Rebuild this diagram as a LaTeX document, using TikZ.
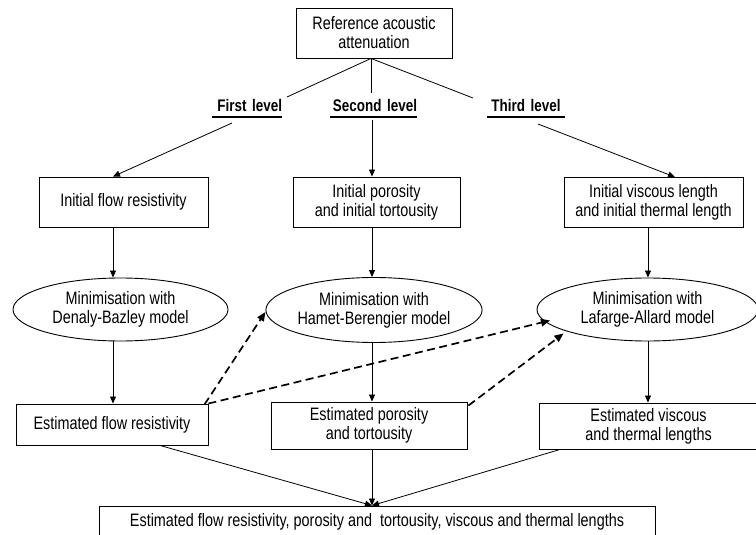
\documentclass[tikz,border=0pt]{standalone}
\usepackage{fontspec}
\setmainfont{Liberation Sans}[FakeStretch=0.8]
\usetikzlibrary{shapes.geometric,arrows.meta,calc}
\begin{document}
\begin{tikzpicture}[x=1pt,y=-1pt,
  txt/.style={font=\fontsize{18}{19}\selectfont},
  box/.style={draw, rectangle, inner sep=0pt, align=center, txt, line width=0.9pt},
  oval/.style={draw, ellipse, inner sep=0pt, align=center, txt, line width=0.9pt},
  lvl/.style={inner sep=0pt, anchor=base, font=\fontsize{16.8}{18}\selectfont\bfseries},
  conn/.style={line width=0.8pt},
  arr/.style={conn, -{Triangle[length=7pt,width=6pt]}},
  dsh/.style={line width=1.7pt, dash pattern=on 8pt off 4.5pt, -{Triangle[length=9pt,width=7.5pt]}},
  uline/.style={line width=1.8pt}
]
\useasboundingbox (0,0) rectangle (756,535);
\clip (0,0) rectangle (756,535);

% nodes
\node[box, minimum width=156pt, minimum height=50pt] (top) at (374,33) {Reference acoustic\\attenuation};

\node[lvl, text width=70pt, align=right] (l1) at (247,112) {First level};
\node[lvl, text width=87pt, align=right] (l2) at (373.5,112) {Second level};
\node[lvl, text width=78pt, align=center] (l3) at (526,112) {Third level};

\node[box, minimum width=169pt, minimum height=50pt] (fr) at (123.5,202) {Initial flow resistivity};
\node[box, minimum width=167pt, minimum height=50pt] (ip) at (376.5,202) {Initial porosity\\and initial tortousity};
\node[box, minimum width=179pt, minimum height=50pt] (iv) at (653.5,202.5) {Initial viscous length\\and initial thermal length};

\node[oval, minimum width=215pt, minimum height=63pt] (db) at (120.5,309.5) {Minimisation with\\Denaly-Bazley model};
\node[oval, minimum width=212pt, minimum height=65pt] (hb) at (374,310) {Minimisation with\\Hamet-Berengier model};
\node[oval, minimum width=221pt, minimum height=63pt] (la) at (647.5,309.5) {Minimisation with\\Lafarge-Allard model};

\node[box, minimum width=192pt, minimum height=41pt] (ef) at (112,424.5) {Estimated flow resistivity};
\node[box, minimum width=196pt, minimum height=47pt] (ep) at (369,425.5) {Estimated porosity\\and tortousity};
\node[box, minimum width=219pt, minimum height=46pt] (ev) at (648.5,426) {Estimated viscous\\and thermal lengths};

\node[box, minimum width=556pt, minimum height=31pt] (fin) at (377,521.5) {Estimated flow resistivity, porosity and\ \ tortousity, viscous and thermal lengths};

% helper coordinates
\coordinate (t0) at (371,58);
\coordinate (t1) at (287,97);
\coordinate (t2) at (371,93);
\coordinate (t3) at (473,98);
\coordinate (s1) at (232,123);
\coordinate (s2) at (372,120);
\coordinate (s3) at (538,124);
\coordinate (c1) at (113,0);
\coordinate (c2) at (372,0);
\coordinate (c3) at (648,0);

% underlines of level labels
\draw[uline] ($(l1.base west)+(0,5)$) -- ($(l1.base east)+(0,5)$);
\draw[uline] ($(l2.base west)+(0,5)$) -- ($(l2.base east)+(0,5)$);
\draw[uline] ($(l3.base west)+(0,5)$) -- ($(l3.base east)+(0,5)$);

% connectors
\draw[conn] (top.south -| t0) -- (t1);
\draw[conn] (top.south -| t0) -- (t2);
\draw[conn] (top.south -| t0) -- (t3);

\draw[arr] (s1) -- (fr.north -| c1);
\draw[arr] (s2) -- (ip.north -| c2);
\draw[arr] (s3) -- ($(iv.north)+(21.5,0)$);

\draw[arr] (fr.south -| c1) -- (db.north -| c1);
\draw[arr] (ip.south -| c2) -- (hb.north -| c2);
\draw[arr] (iv.south -| c3) -- (la.north -| c3);

\draw[arr] (db.south -| c1) -- (ef.north -| c1);
\draw[arr] (hb.south -| c2) -- (ep.north -| c2);
\draw[arr] (la.south -| c3) -- (ev.north -| c3);

\draw[arr] ($(ef.south)+(48,0)$) -- (fin.north -| c2);
\draw[arr] (ep.south -| c2) -- (fin.north -| c2);
\draw[arr] ($(ev.south)+(-88.5,0)$) -- (fin.north -| c2);

\draw[dsh] ($(ef.north east)+(-4,1)$) -- ($(hb.west)+(0,2)$);
\draw[dsh] (ef.north east) -- ($(la.center)+(-97.5,11)$);
\draw[dsh] ($(ep.north east)+(1,4)$) -- ($(la.center)+(-84,24)$);
\end{tikzpicture}
\end{document}
